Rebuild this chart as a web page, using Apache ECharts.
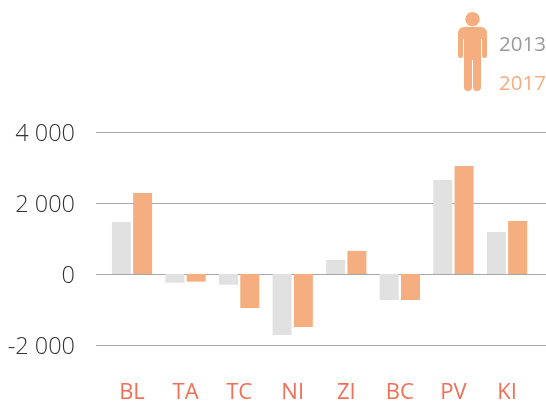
<!DOCTYPE html>
<html>
<head>
<meta charset="utf-8">
<style>
html,body{margin:0;padding:0;background:#fff}
#main{width:546px;height:401px}
</style>
<script src="https://cdn.jsdelivr.net/npm/echarts@6/dist/echarts.min.js"></script>
</head>
<body>
<div id="main"></div>
<script>
var categories = ['BL','TA','TC','NI','ZI','BC','PV','KI'];
var values2013 = [1465,-245,-300,-1718,394,-732,2648,1183];
var values2017 = [2282,-215,-958,-1493,648,-732,3042,1493];
var yTicks = [-2000,0,2000,4000];

var FONT = '"Open Sans", sans-serif';
var GRAY = '#e1e1e1', ORANGE = '#f4ae80', RED = '#f07057';

var myChart = echarts.init(document.getElementById('main'));
var option = {
    animation: false,
    backgroundColor: '#fff',
    legend: {
        orient: 'vertical',
        left: 499,
        top: 35,
        padding: 0,
        itemWidth: 0,
        itemHeight: 0,
        itemGap: 18,
        icon: 'rect',
        selectedMode: false,
        textStyle: {fontFamily: FONT, fontSize: 20.5, padding: [0,0,0,-5]},
        data: [
            {name: '2013', textStyle: {color: '#9b9b9b'}},
            {name: '2017', textStyle: {color: ORANGE}}
        ]
    },
    // grid 0 holds the long rules and the y labels, grid 1 holds the bars
    grid: [
        {left: 96, right: 0, top: 132, bottom: 56, outerBoundsMode: 'none'},
        {left: 105.2, right: 12.2, top: 132, bottom: 56, outerBoundsMode: 'none'}
    ],
    xAxis: [
        {gridIndex: 0, type: 'category', data: categories, show: false},
        {
            gridIndex: 1,
            type: 'category',
            data: categories,
            position: 'bottom',
            axisLine: {show: false, onZero: false},
            axisTick: {show: false},
            axisLabel: {color: RED, fontFamily: FONT, fontSize: 22, margin: 37}
        }
    ],
    yAxis: [
        {
            gridIndex: 0,
            type: 'value',
            min: yTicks[0],
            max: yTicks[yTicks.length - 1],
            interval: 2000,
            axisLine: {show: false},
            axisTick: {show: false},
            splitLine: {lineStyle: {color: '#a8a8a8', width: 1}},
            axisLabel: {
                color: '#333',
                fontFamily: FONT,
                fontWeight: 300,
                fontSize: 23.5,
                margin: 21,
                verticalAlign: 'top',
                lineHeight: 4,
                formatter: function(v){
                    return String(v).replace(/\B(?=(\d{3})+$)/g, ' ');
                }
            }
        },
        {
            gridIndex: 1,
            type: 'value',
            min: yTicks[0],
            max: yTicks[yTicks.length - 1],
            interval: 2000,
            show: false
        }
    ],
    series: [
        {name: '2013', type: 'bar', xAxisIndex: 1, yAxisIndex: 1, data: values2013, barWidth: 19, barGap: '12%', itemStyle: {color: GRAY}},
        {name: '2017', type: 'bar', xAxisIndex: 1, yAxisIndex: 1, data: values2017, barWidth: 19, barGap: '12%', itemStyle: {color: ORANGE}}
    ],
    graphic: [{
        type: 'group',
        left: 458,
        top: 12,
        silent: true,
        children: [
            {type: 'circle', shape: {cx: 14.5, cy: 7.2, r: 7.2}, style: {fill: ORANGE}},
            {type: 'rect', shape: {x: 0, y: 15, width: 29, height: 12, r: [6,6,0,0]}, style: {fill: ORANGE}},
            {type: 'rect', shape: {x: 0, y: 22, width: 5, height: 24, r: 2.5}, style: {fill: ORANGE}},
            {type: 'rect', shape: {x: 24, y: 22, width: 5, height: 24, r: 2.5}, style: {fill: ORANGE}},
            {type: 'rect', shape: {x: 6, y: 22, width: 17, height: 26}, style: {fill: ORANGE}},
            {type: 'rect', shape: {x: 6, y: 42, width: 8, height: 37, r: 4}, style: {fill: ORANGE}},
            {type: 'rect', shape: {x: 15, y: 42, width: 8, height: 37, r: 4}, style: {fill: ORANGE}}
        ]
    }]
};
myChart.setOption(option);
</script>
</body>
</html>
